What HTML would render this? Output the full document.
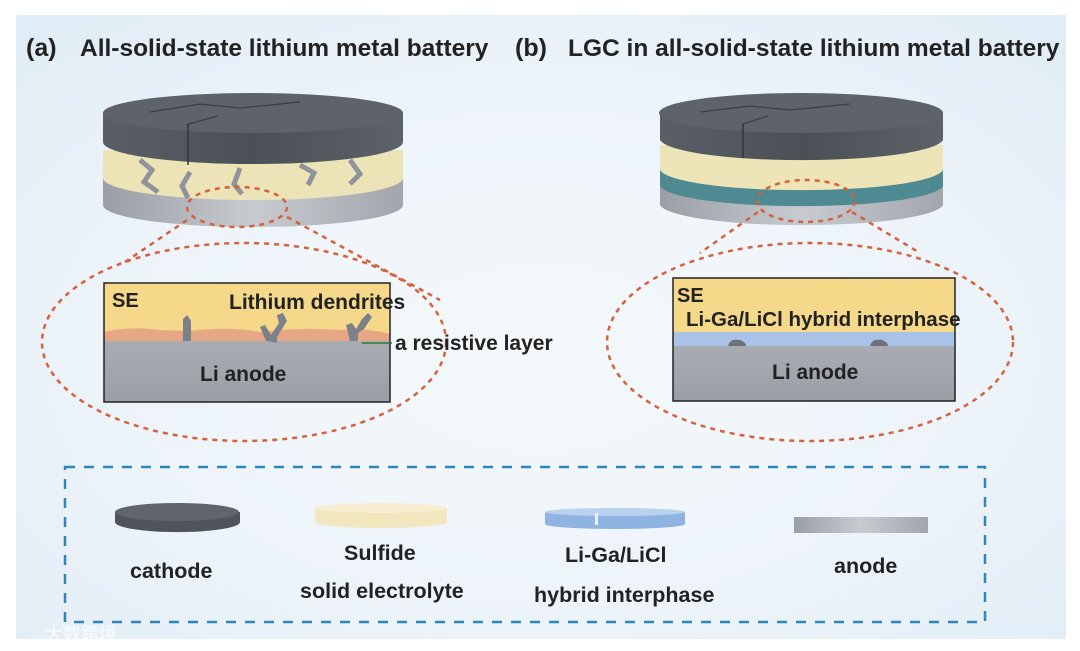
<!DOCTYPE html>
<html><head><meta charset="utf-8"><style>
html,body{margin:0;padding:0;background:#fff;}
svg{display:block;}
text{font-family:"Liberation Sans",Arial,sans-serif;font-weight:bold;fill:#222;}
</style></head><body>
<svg width="1080" height="651" viewBox="0 0 1080 651" xmlns="http://www.w3.org/2000/svg">
<defs>
<radialGradient id="bg" cx="0.5" cy="0.55" r="0.7"><stop offset="0" stop-color="#f4f8fb"/><stop offset="0.6" stop-color="#edf4f9"/><stop offset="1" stop-color="#e1edf6"/></radialGradient>
<linearGradient id="cat" x1="0" y1="0" x2="1" y2="0"><stop offset="0" stop-color="#5a5f66"/><stop offset="0.5" stop-color="#4b5057"/><stop offset="1" stop-color="#5d6269"/></linearGradient>
<linearGradient id="an" x1="0" y1="0" x2="1" y2="0"><stop offset="0" stop-color="#9a9ea5"/><stop offset="0.5" stop-color="#c8cbd0"/><stop offset="1" stop-color="#a2a6ac"/></linearGradient>
<linearGradient id="boxan" x1="0" y1="0" x2="0" y2="1"><stop offset="0" stop-color="#a9adb3"/><stop offset="1" stop-color="#9a9ea5"/></linearGradient>
</defs>
<rect x="16" y="15" width="1050" height="624" fill="url(#bg)"/>

<text x="26" y="56" font-size="25">(a)</text>
<text x="80" y="56" font-size="24.5">All-solid-state lithium metal battery</text>
<text x="515" y="56" font-size="25">(b)</text>
<text x="568" y="56" font-size="24.5">LGC in all-solid-state lithium metal battery</text>

<!-- left battery -->
<g>
<path d="M103 175 L103 205 A150 22 0 0 0 403 205 L403 175 Z" fill="url(#an)"/>
<path d="M103 150 L103 178 A150 22 0 0 0 403 178 L403 150 Z" fill="#ece3b6"/>
<path d="M140 160 l12 10 -8 12 14 10 M190 172 l-8 14 6 12 M240 168 l-6 16 8 10 M300 165 l14 8 -6 12 M350 160 l10 14 -10 10" stroke="#8f949c" stroke-width="5" fill="none"/>
<path d="M103 113 L103 142 A150 22 0 0 0 403 142 L403 113 Z" fill="url(#cat)"/>
<ellipse cx="253" cy="113" rx="150" ry="20" fill="#5e636a"/>
<path d="M188 124 L188 165" stroke="#33373c" stroke-width="1.5"/>
<path d="M150 112 l50 -8 40 4 60 -6 M188 124 l30 -8" stroke="#3a3e43" stroke-width="1.2" fill="none"/>
</g>
<!-- right battery -->
<g>
<path d="M660 183 L660 205 A142 22 0 0 0 943 205 L943 183 Z" fill="url(#an)"/>
<path d="M660 168 L660 186 A142 22 0 0 0 943 186 L943 168 Z" fill="#4f8a93"/>
<path d="M660 145 L660 170 A142 22 0 0 0 943 170 L943 145 Z" fill="#ede4b8"/>
<path d="M660 113 L660 140 A142 22 0 0 0 943 140 L943 113 Z" fill="url(#cat)"/>
<ellipse cx="801" cy="113" rx="142" ry="20" fill="#5e636a"/>
<path d="M743 124 L743 158" stroke="#33373c" stroke-width="1.5"/>
<path d="M700 112 l50 -6 40 4 60 -6 M743 124 l25 -8" stroke="#3a3e43" stroke-width="1.2" fill="none"/>
</g>
<g stroke="#d4623f" stroke-width="2.5" fill="none" stroke-dasharray="5,5">
<ellipse cx="237" cy="207" rx="50" ry="20"/>
<ellipse cx="244" cy="342" rx="202" ry="99"/>
<path d="M187 220 L125 262 M287 217 L440 300"/>
<ellipse cx="806" cy="201" rx="49" ry="21"/>
<ellipse cx="810" cy="342" rx="203" ry="99"/>
<path d="M758 212 L700 253 M852 212 L920 253"/>
</g>

<!-- left box -->
<rect x="104" y="283" width="286" height="58" fill="#f5d889"/>
<path d="M104 341 L104 332 Q130 326 160 330 L190 331 Q230 326 260 332 Q300 327 340 330 Q370 328 390 334 L390 341 Z" fill="#e8a784"/>
<rect x="104" y="341" width="286" height="61" fill="url(#boxan)"/>
<path d="M183 341 l0 -22 l4 -4 l4 6 l0 20 Z" fill="#7c8088"/>
<path d="M266 341 l-6 -14 l5 -2 l6 10 l8 -12 l-2 -8 l6 -2 l4 8 l-10 16 l0 6 Z" fill="#7c8088"/>
<path d="M350 341 l-4 -16 l6 -2 l4 6 l6 -10 l6 -6 l4 4 l-8 12 l-6 4 l0 8 Z" fill="#7c8088"/>
<rect x="104" y="283" width="286" height="119" fill="none" stroke="#222" stroke-width="1.5"/>
<text x="112" y="307" font-size="20">SE</text>
<text x="229" y="309" font-size="21">Lithium dendrites</text>
<text x="200" y="381" font-size="21">Li anode</text>
<path d="M362 343 L392 343" stroke="#2a7a3a" stroke-width="1.5"/>
<text x="395" y="350" font-size="21">a resistive layer</text>

<!-- right box -->
<rect x="673" y="278" width="282" height="54" fill="#f5d889"/>
<rect x="673" y="332" width="282" height="14" fill="#a9c3e8"/>
<rect x="673" y="346" width="282" height="55" fill="url(#boxan)"/>
<path d="M728 346 q2 -8 12 -6 q6 2 6 6 Z M870 346 q2 -8 12 -6 q6 2 6 6 Z" fill="#6d7179"/>
<rect x="673" y="278" width="282" height="123" fill="none" stroke="#222" stroke-width="1.5"/>
<text x="677" y="302" font-size="20">SE</text>
<text x="686" y="326" font-size="20.5">Li-Ga/LiCl hybrid interphase</text>
<text x="772" y="379" font-size="21">Li anode</text>

<!-- legend -->
<rect x="65" y="467" width="920" height="155" fill="none" stroke="#2f86b8" stroke-width="2.5" stroke-dasharray="10,9"/>
<path d="M115 512 L115 522 A62 10 0 0 0 240 522 L240 512 Z" fill="#4f545b"/>
<ellipse cx="177" cy="512" rx="62" ry="9" fill="#60656c"/>
<path d="M315 508 L315 522 A66 6 0 0 0 447 522 L447 508 Z" fill="#f2e6bf"/>
<ellipse cx="381" cy="508" rx="66" ry="5" fill="#f8efd2"/>
<path d="M545 512 L545 524 A70 5 0 0 0 685 524 L685 512 Z" fill="#8fb4e2"/>
<ellipse cx="615" cy="512" rx="70" ry="4" fill="#b8d2f0"/>
<rect x="595" y="513" width="3" height="12" fill="#e6f0fb"/>
<rect x="794" y="517" width="134" height="16" fill="url(#an)"/>
<text x="130" y="578" font-size="21.5">cathode</text>
<text x="344" y="560" font-size="21.5">Sulfide</text>
<text x="300" y="598" font-size="21.5">solid electrolyte</text>
<text x="565" y="562" font-size="21.5">Li-Ga/LiCl</text>
<text x="534" y="602" font-size="21.5">hybrid interphase</text>
<text x="834" y="573" font-size="21.5">anode</text>
<text x="45" y="640" font-size="18" style="fill:#fff;font-family:'Noto Sans CJK SC',sans-serif;font-weight:normal;opacity:0.9">大数跨境</text>
</svg>
</body></html>
